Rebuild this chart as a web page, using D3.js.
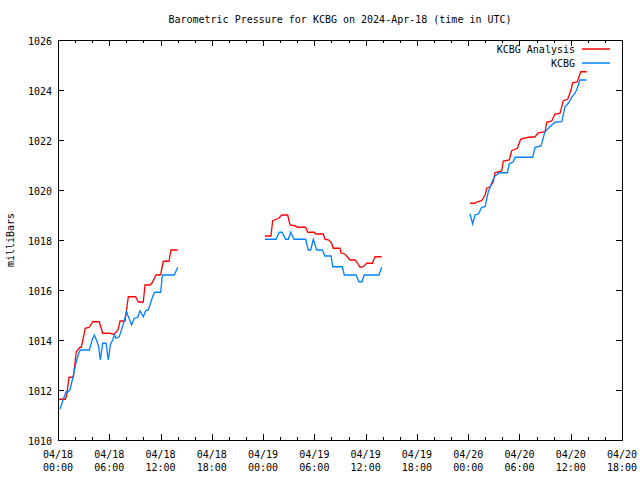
<!DOCTYPE html>
<html><head><meta charset="utf-8">
<script src="https://cdn.jsdelivr.net/npm/d3@7"></script>
<style>
body{margin:0;background:#fff;}
text{font-family:"DejaVu Sans Mono",monospace;font-size:10px;fill:#000;}
</style></head>
<body><svg id="c" width="640" height="480"></svg>
<script>
// hours since 2024-04-18 00:00 UTC ; null breaks the line
const analysisHours = [0.12,0.85,1.02,1.29,1.79,2.14,2.57,2.73,3.19,3.66,4.06,4.83,5.23,6.0,6.59,7.02,7.26,7.84,8.23,9.09,9.40,9.98,10.18,10.77,11.0,11.47,11.94,12.05,12.32,12.99,13.22,14.01,
 20,
 24.22,24.92,25.12,25.59,25.86,26.18,26.88,27.15,27.73,28.05,28.98,29.22,30.0,30.16,31.05,31.24,31.71,32.03,32.21,33.0,33.12,33.59,34.17,34.76,35.07,35.34,35.73,36.13,36.79,37.10,37.88,
 44,
 48.21,48.8,49.07,49.58,49.97,50.17,50.56,50.94,51.14,51.53,51.92,52.11,52.81,53.09,53.75,54.15,55.04,55.82,56.21,56.99,57.19,57.78,58.16,58.75,59.13,59.65,60.03,60.23,60.77,61.17,61.87];
const analysisValues = [1011.63,1011.63,1011.80,1012.51,1012.51,1013.53,1013.71,1013.71,1014.47,1014.51,1014.73,1014.73,1014.27,1014.27,1014.23,1014.4,1014.76,1014.76,1015.73,1015.73,1015.52,1015.52,1016.2,1016.2,1016.28,1016.6,1016.6,1016.68,1017.15,1017.15,1017.6,1017.6,
 null,
 1018.16,1018.16,1018.77,1018.83,1018.88,1019.0,1019.0,1018.6,1018.57,1018.51,1018.51,1018.31,1018.31,1018.24,1018.24,1018.03,1018.0,1017.87,1017.67,1017.67,1017.49,1017.43,1017.2,1017.2,1017.07,1016.91,1016.93,1017.07,1017.07,1017.33,1017.33,
 null,
 1019.47,1019.47,1019.53,1019.57,1019.8,1020.07,1020.13,1020.33,1020.69,1020.73,1020.76,1021.16,1021.2,1021.57,1021.67,1022.04,1022.11,1022.13,1022.29,1022.33,1022.71,1022.76,1023.04,1023.07,1023.57,1023.63,1024.0,1024.29,1024.33,1024.73,1024.73];

const obsHours = [0.23,0.59,0.94,1.05,1.40,1.72,2.11,2.42,2.61,3.66,4.06,4.25,4.5,4.76,4.95,5.23,5.62,5.89,6.12,6.40,6.59,6.79,7.17,7.61,8.04,8.16,8.62,8.93,9.33,9.60,9.98,10.26,10.57,10.88,11.15,11.35,12.02,12.21,13.61,14.01,
 20,
 24.22,25.51,25.90,26.21,26.65,26.95,27.23,27.62,28.98,29.29,29.57,29.88,30.27,30.93,31.24,31.95,32.15,33.27,33.5,34.87,35.22,35.57,35.84,37.56,37.88,
 44,
 48.21,48.53,48.8,49.19,49.58,49.97,50.36,50.75,51.14,51.64,52.58,52.81,53.28,53.48,55.55,55.82,56.52,56.99,57.38,58.16,58.95,59.33,59.72,60.12,60.5,60.77,61.09,61.87];
const obsValues = [1011.23,1011.6,1011.93,1011.89,1012.0,1012.47,1013.09,1013.47,1013.6,1013.6,1014.07,1014.2,1014.0,1013.73,1013.2,1013.87,1013.87,1013.2,1013.8,1014.0,1014.2,1014.07,1014.13,1014.6,1015.13,1015.0,1014.6,1014.87,1014.91,1015.17,1014.93,1015.17,1015.2,1015.53,1015.8,1015.91,1015.91,1016.6,1016.6,1016.91,
 null,
 1018.03,1018.03,1018.31,1018.31,1018.03,1018.03,1018.31,1018.03,1018.03,1017.6,1017.6,1018.03,1017.6,1017.6,1017.36,1017.36,1016.93,1016.93,1016.6,1016.6,1016.33,1016.33,1016.6,1016.6,1016.91,
 null,
 1019.04,1018.64,1019.0,1019.04,1019.31,1019.33,1019.93,1020.29,1020.56,1020.69,1020.69,1021.04,1021.13,1021.31,1021.31,1021.71,1021.76,1022.33,1022.47,1022.71,1022.73,1023.33,1023.47,1023.71,1023.87,1024.07,1024.4,1024.4];

const yTicks = [1010,1012,1014,1016,1018,1020,1022,1024,1026];
const xTickHours = [0,6,12,18,24,30,36,42,48,54,60,66];
const seriesNames = ["KCBG Analysis","KCBG"];
const seriesColors = ["#ff0000","#0080ff"];
const titleText = "Barometric Pressure for KCBG on 2024-Apr-18 (time in UTC)";
const yLabel = "milliBars";

const start = Date.UTC(2024,3,18,0,0);
const toDate = h => new Date(start + h*3600e3);

const svg = d3.select("#c");
const L=58, R=622, T=40, B=440;
const x = d3.scaleUtc().domain([toDate(0), toDate(66)]).range([L,R]);
const y = d3.scaleLinear().domain([1010,1026]).range([B,T]);

const minorH = d3.range(0,67,2);
const fmtD = d3.utcFormat("%m/%d"), fmtT = d3.utcFormat("%H:%M");

const g = svg.append("g");
g.selectAll(".yt").data(yTicks).join("g").each(function(v){
  const s=d3.select(this), yy=Math.round(y(v))+0.5;
  s.append("line").attr("x1",L).attr("x2",L+6).attr("y1",yy).attr("y2",yy).attr("stroke","#000");
  s.append("line").attr("x1",R-6).attr("x2",R).attr("y1",yy).attr("y2",yy).attr("stroke","#000");
  s.append("text").attr("x",L-6).attr("y",yy+4).attr("text-anchor","end").text(v);
});
g.selectAll(".xm").data(minorH).join("g").each(function(h){
  const s=d3.select(this), xx=Math.round(x(toDate(h)))+0.5;
  const len = (h%6===0)?6:3;
  s.append("line").attr("x1",xx).attr("x2",xx).attr("y1",B).attr("y2",B-len).attr("stroke","#000");
  s.append("line").attr("x1",xx).attr("x2",xx).attr("y1",T).attr("y2",T+len).attr("stroke","#000");
});
g.selectAll(".xl").data(xTickHours).join("g").each(function(h){
  const s=d3.select(this), xx=x(toDate(h));
  s.append("text").attr("x",xx).attr("y",B+18).attr("text-anchor","middle").text(fmtD(toDate(h)));
  s.append("text").attr("x",xx).attr("y",B+31).attr("text-anchor","middle").text(fmtT(toDate(h)));
});
svg.append("rect").attr("x",L+0.5).attr("y",T+0.5).attr("width",R-L).attr("height",B-T)
  .attr("fill","none").attr("stroke","#000");

const line = d3.line().defined(d=>d[1]!==null).x(d=>x(toDate(d[0]))).y(d=>y(d[1]));
const sets = [analysisHours.map((h,i)=>[h,analysisValues[i]]), obsHours.map((h,i)=>[h,obsValues[i]])];
sets.forEach((data,i)=>{
  svg.append("path").attr("d",line(data)).attr("fill","none").attr("stroke",seriesColors[i]).attr("stroke-width",1.3);
});
seriesNames.forEach((n,i)=>{
  const yy = 49 + i*14;
  svg.append("text").attr("x",575).attr("y",yy+4).attr("text-anchor","end").text(n);
  svg.append("line").attr("x1",582).attr("x2",610).attr("y1",yy).attr("y2",yy).attr("stroke",seriesColors[i]).attr("stroke-width",1.5);
});
svg.append("text").attr("x",340).attr("y",23).attr("text-anchor","middle").text(titleText);
svg.append("text").attr("transform","translate(14,240) rotate(-90)").attr("text-anchor","middle").text(yLabel);
</script></body></html>
